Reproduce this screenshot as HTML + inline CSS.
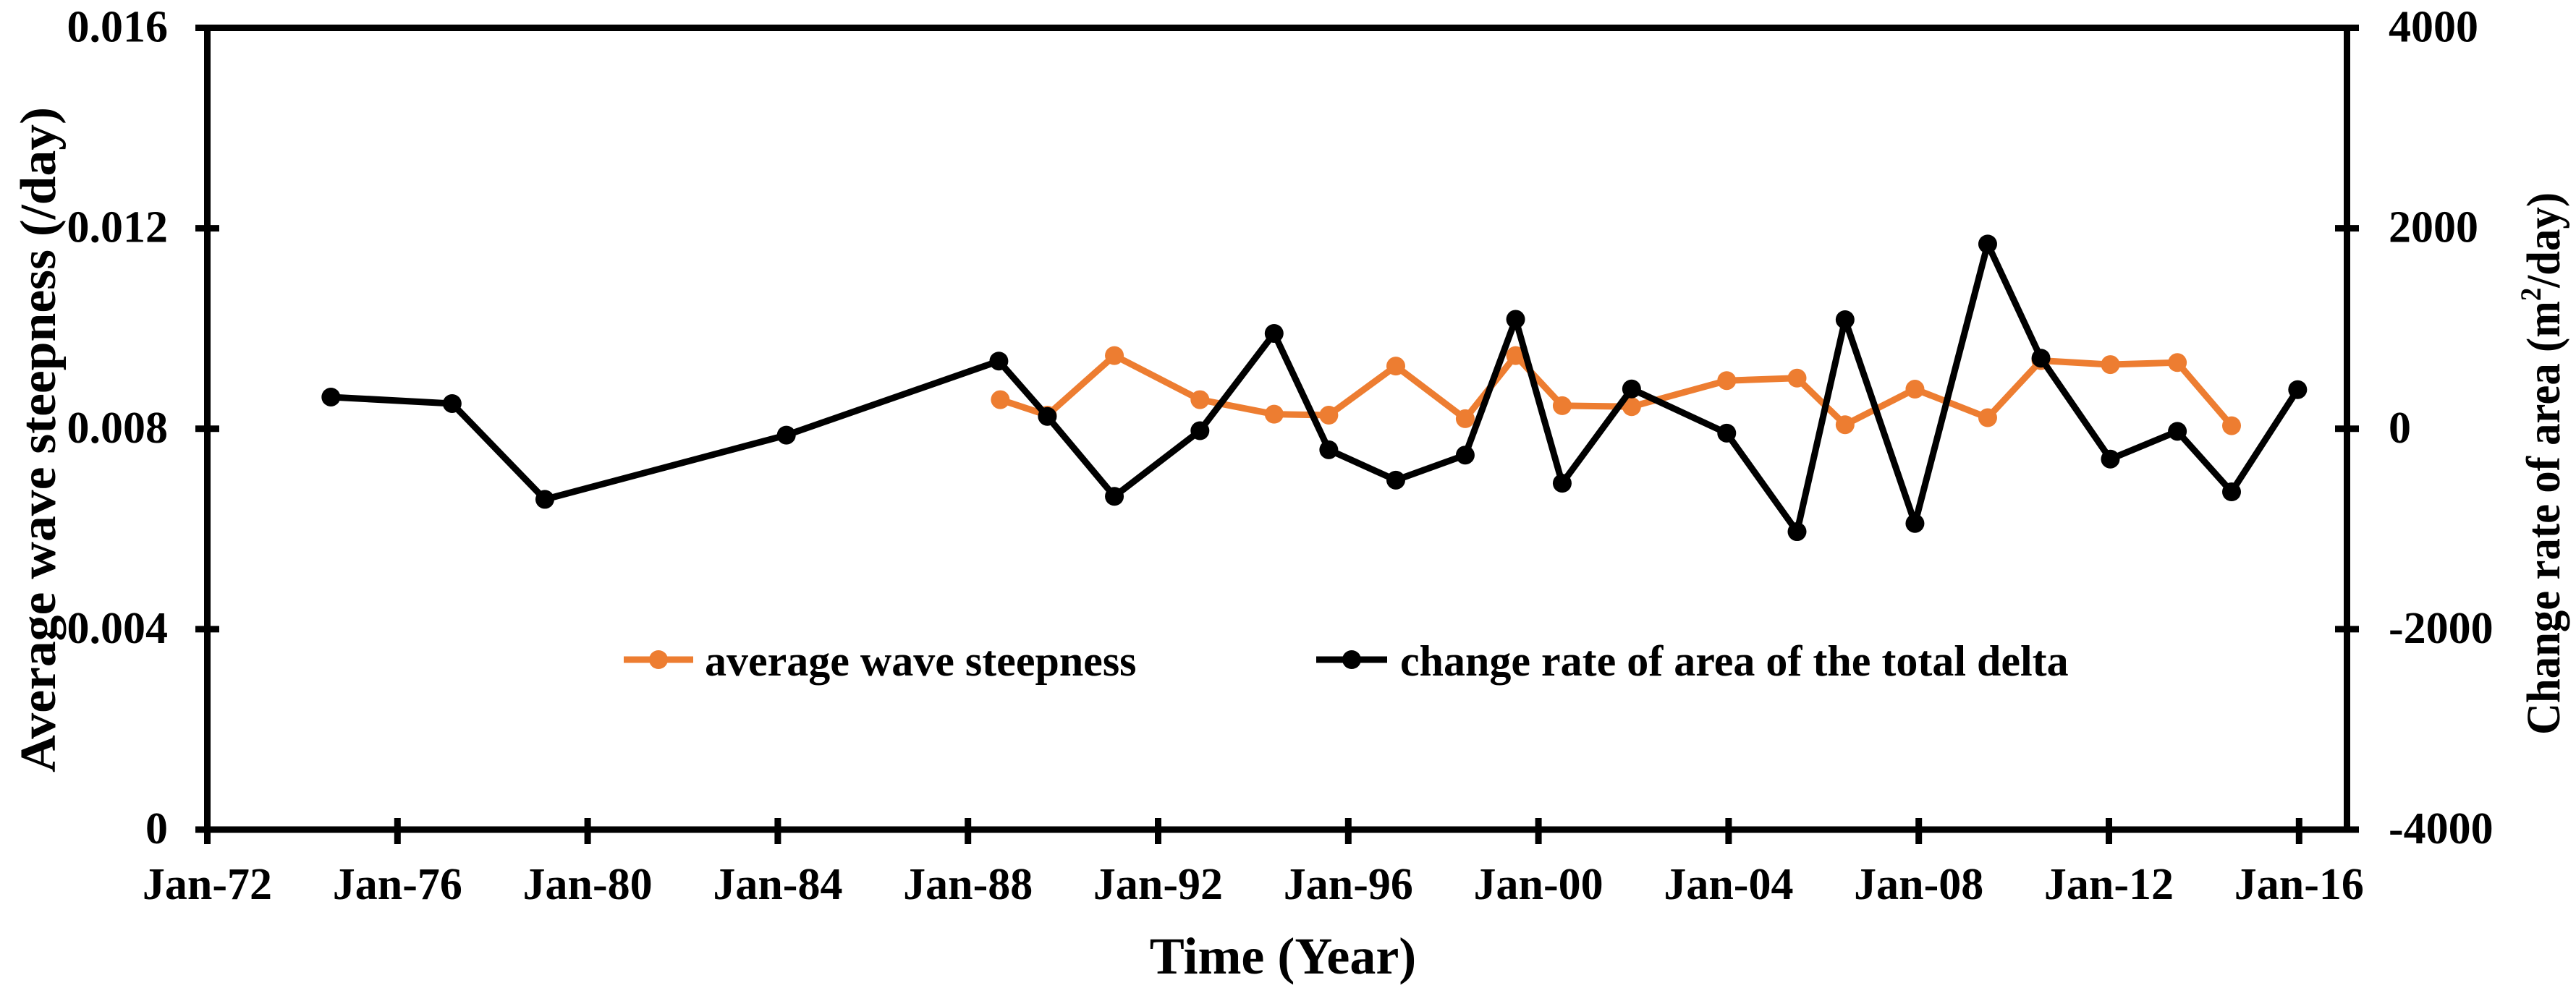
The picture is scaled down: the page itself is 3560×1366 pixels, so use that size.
<!DOCTYPE html>
<html><head><meta charset="utf-8"><style>
html,body{margin:0;padding:0;background:#fff;}
svg{display:block;}
svg text{font-family:"Liberation Serif","Times New Roman","DejaVu Serif",serif;font-weight:bold;}
</style></head><body>
<svg id="chart" width="3560" height="1366" viewBox="0 0 3560 1366" font-family="Liberation Serif, Times New Roman, DejaVu Serif, serif" font-weight="bold">
<g id="axes"></g>
<g id="series"></g>
<g>
  <g>
    <line x1="862" y1="912" x2="958" y2="912" stroke="#ED7D31" stroke-width="9"/>
    <circle cx="910" cy="912" r="13" fill="#ED7D31"/>
    <text x="974" y="934" font-size="60" fill="#000">average wave steepness</text>
  </g>
  <g>
    <line x1="1819" y1="912" x2="1917" y2="912" stroke="#000" stroke-width="9"/>
    <circle cx="1868" cy="912" r="13" fill="#000"/>
    <text x="1935" y="934" font-size="60" fill="#000">change rate of area of the total delta</text>
  </g>
</g>
<text x="1773" y="1346" font-size="72" text-anchor="middle">Time (Year)</text>
<text transform="translate(76,608) rotate(-90)" font-size="70" text-anchor="middle" textLength="920" lengthAdjust="spacingAndGlyphs">Average wave steepness (/day)</text>
<text transform="translate(3537,641) rotate(-90)" font-size="66" text-anchor="middle" textLength="750" lengthAdjust="spacingAndGlyphs">Change rate of area (m<tspan font-size="40" dy="-26">2</tspan><tspan dy="26">/day)</tspan></text>
</svg>
<script>
const xTickYears = [1972,1976,1980,1984,1988,1992,1996,2000,2004,2008,2012,2016];
const xTickLabels = ["Jan-72","Jan-76","Jan-80","Jan-84","Jan-88","Jan-92","Jan-96","Jan-00","Jan-04","Jan-08","Jan-12","Jan-16"];
const leftTicks = [0,0.004,0.008,0.012,0.016];
const leftTickLabels = ["0","0.004","0.008","0.012","0.016"];
const rightTicks = [-4000,-2000,0,2000,4000];
const rightTickLabels = ["-4000","-2000","0","2000","4000"];
const areaYears = [1974.60,1977.15,1979.10,1984.18,1988.65,1989.67,1991.08,1992.88,1994.44,1995.59,1997.00,1998.46,1999.52,2000.50,2001.96,2003.96,2005.44,2006.45,2007.92,2009.45,2010.57,2012.03,2013.44,2014.58,2015.97];
const areaRates = [316,251,-705,-64,675,123,-675,-20,951,-210,-513,-263,1092,-544,397,-44,-1027,1088,-945,1843,704,-303,-26,-630,390];
const steepYears = [1988.68,1989.67,1991.08,1992.88,1994.44,1995.59,1997.00,1998.46,1999.52,2000.50,2001.96,2003.96,2005.44,2006.45,2007.92,2009.45,2010.57,2012.03,2013.44,2014.58];
const steepValues = [0.00858,0.00827,0.00946,0.00858,0.00829,0.00827,0.00925,0.00820,0.00946,0.00846,0.00844,0.00896,0.00901,0.00808,0.00879,0.00822,0.00936,0.00928,0.00932,0.00806];

const NS="http://www.w3.org/2000/svg";
const L=286.5,R=3243.5,T=38.5,B=1147;
const xs=y=>L+(y-1972)/4*262.8;
const yl=v=>B-(v/0.016)*(B-T);
const yr=v=>B-((v+4000)/8000)*(B-T);
function mk(tag,attrs,parent){const e=document.createElementNS(NS,tag);for(const k in attrs)e.setAttribute(k,attrs[k]);parent.appendChild(e);return e;}
const axes=document.getElementById('axes'),series=document.getElementById('series');
let e;
e=mk('rect',{x:L,y:T,width:R-L,height:B-T,fill:'none',stroke:'#000','stroke-width':9},axes);


xTickYears.forEach((yr_,i)=>{
  const x=xs(yr_);
  e=mk('line',{x1:x,y1:1131,x2:x,y2:1167,stroke:'#000','stroke-width':9},axes);
  
  
  e=mk('text',{x:x,y:1243,'font-size':62,'text-anchor':'middle'},axes);e.textContent=xTickLabels[i];
  
  
});
leftTicks.forEach((v,i)=>{
  const y=yl(v);
  e=mk('line',{x1:270,y1:y,x2:303,y2:y,stroke:'#000','stroke-width':9},axes);
  
  
  e=mk('text',{x:232,y:y+19,'font-size':62,'text-anchor':'end'},axes);e.textContent=leftTickLabels[i];
  
  
});
rightTicks.forEach((v,i)=>{
  const y=yr(v);
  e=mk('line',{x1:3227,y1:y,x2:3260,y2:y,stroke:'#000','stroke-width':9},axes);
  
  
  e=mk('text',{x:3301,y:y+19,'font-size':62,'text-anchor':'start'},axes);e.textContent=rightTickLabels[i];
  
  
});
function drawSeries(xv,yv,yf,color,name){
  const pts=xv.map((x,i)=>xs(x)+','+yf(yv[i])).join(' ');
  e=mk('polyline',{points:pts,fill:'none',stroke:color,'stroke-width':9,'stroke-linejoin':'round'},series);
  
  
  xv.forEach((x,i)=>{
    e=mk('circle',{cx:xs(x),cy:yf(yv[i]),r:13,fill:color},series);
    
    
  });
}
drawSeries(steepYears,steepValues,yl,'#ED7D31','steepness');
drawSeries(areaYears,areaRates,yr,'#000000','area-rate');
</script>
</body></html>
